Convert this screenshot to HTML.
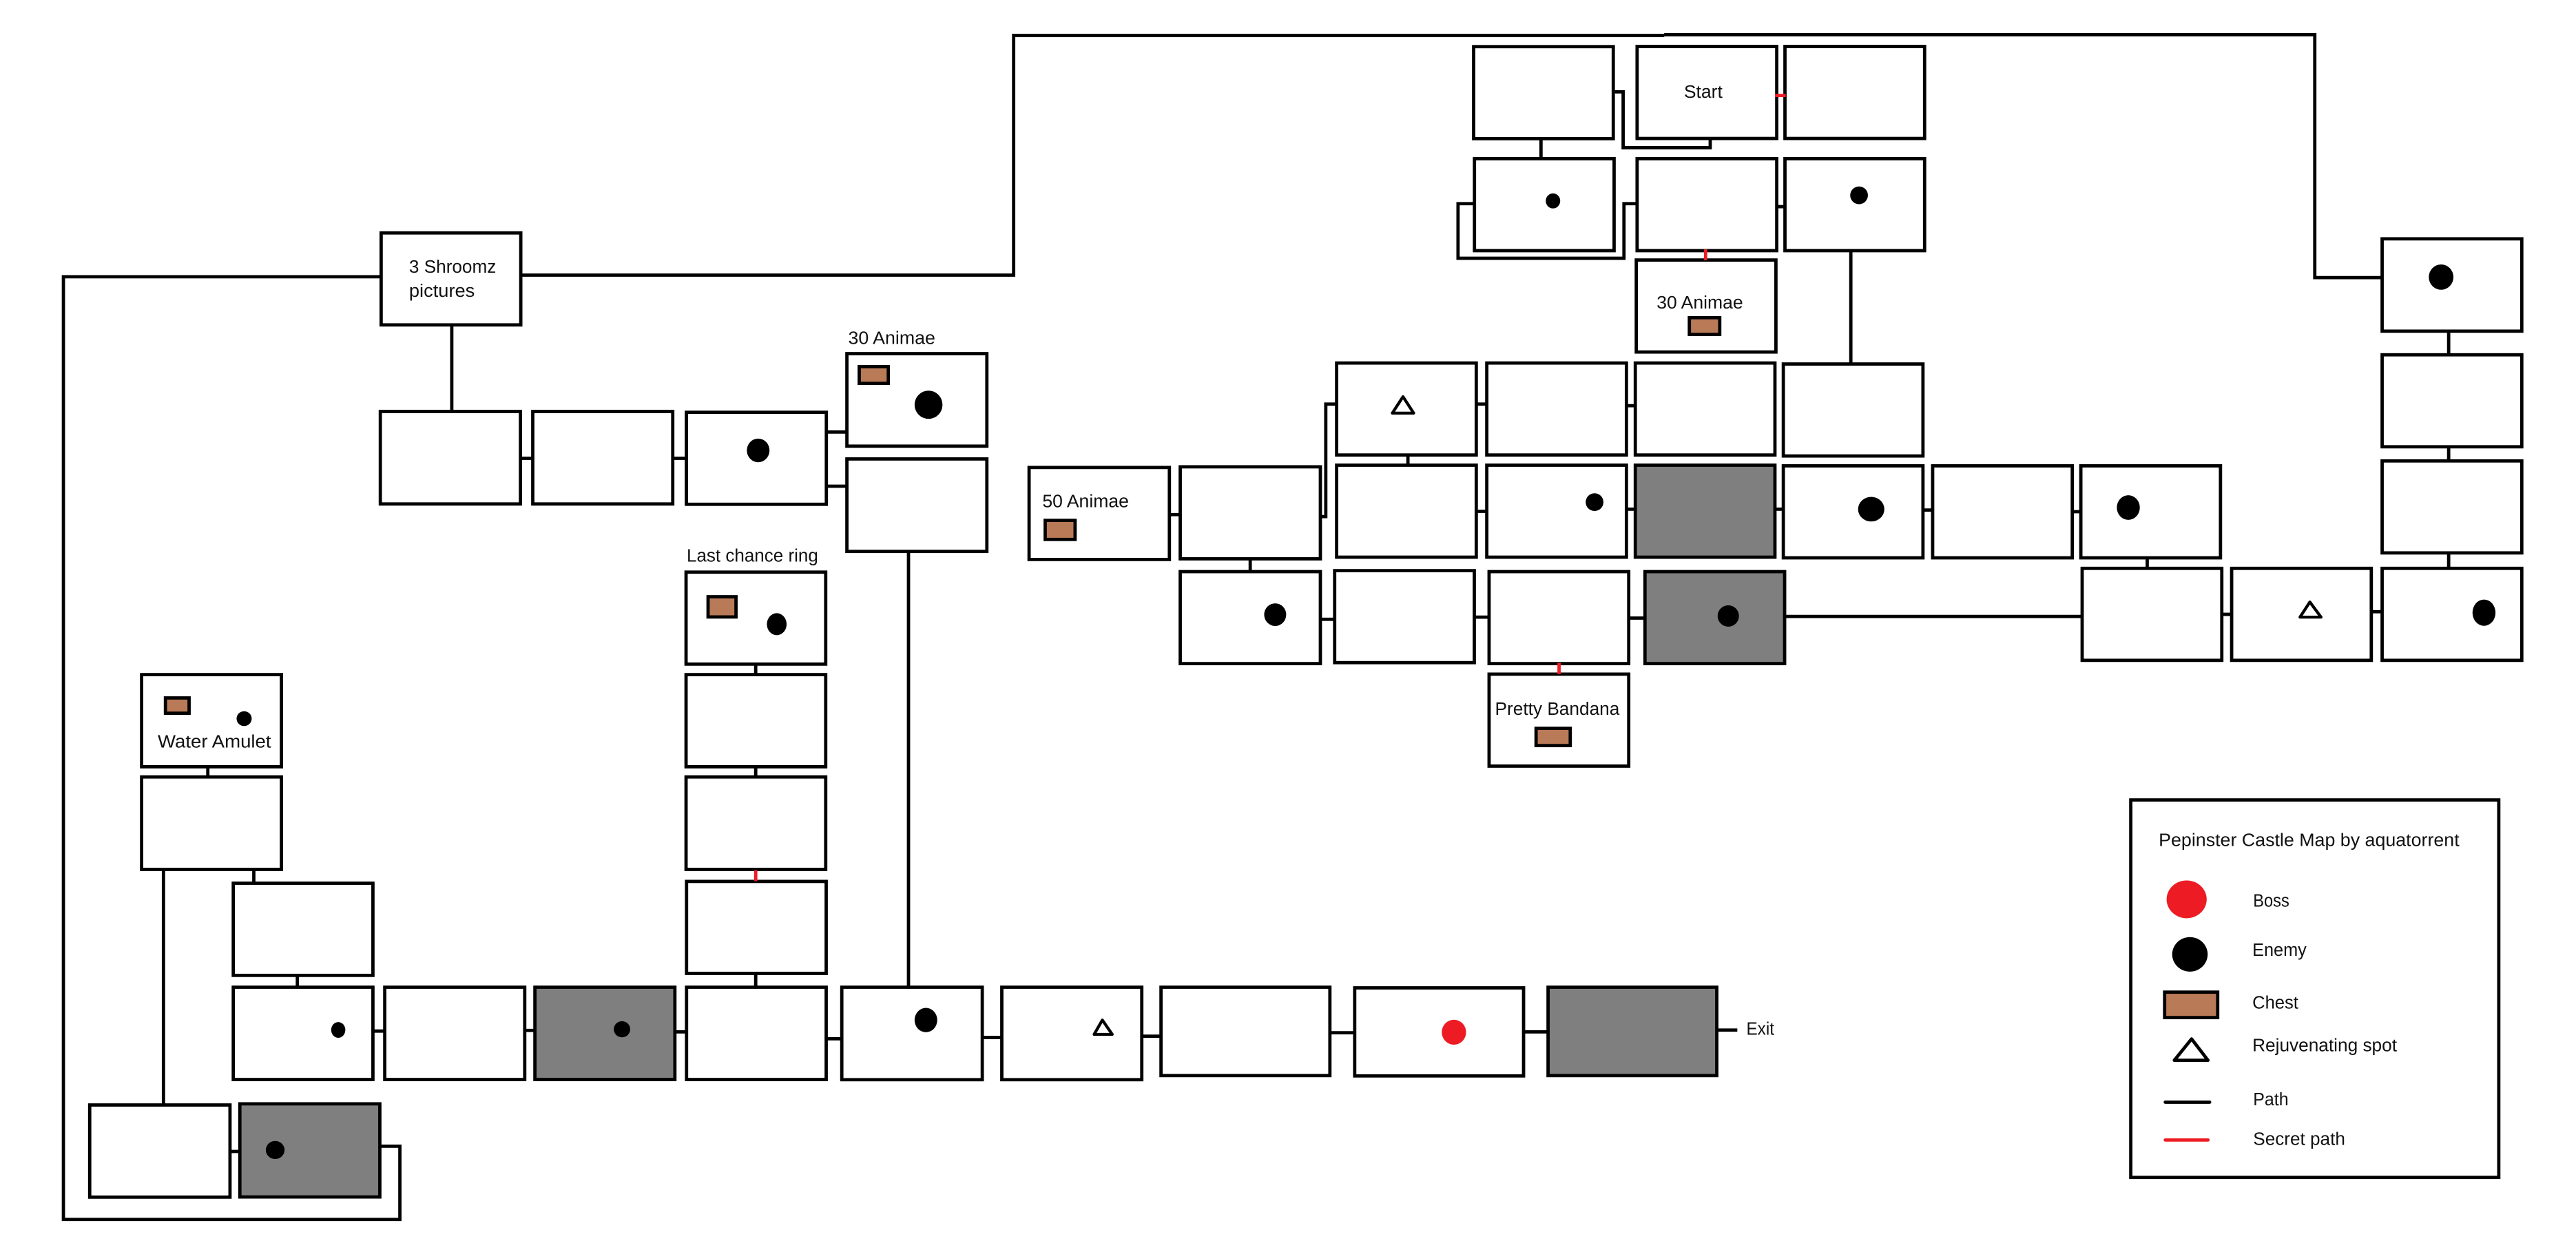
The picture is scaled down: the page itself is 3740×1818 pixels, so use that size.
<!DOCTYPE html>
<html><head><meta charset="utf-8"><style>
html,body{margin:0;padding:0;background:#fff}
svg{display:block}
.r{fill:#fff;stroke:#000;stroke-width:2}
.g{fill:#7f7f7f;stroke:#000;stroke-width:2}
.c{fill:#b97a57;stroke:#000;stroke-width:2}
.l{fill:none;stroke:#000;stroke-width:2}
.s{fill:none;stroke:#ed1c24;stroke-width:2}
.t{fill:#fff;stroke:#000;stroke-width:1.8;stroke-linejoin:round}
text{font-family:"Liberation Sans",sans-serif;font-size:11px;fill:#111}
</style></head><body>
<svg width="3740" height="1818" viewBox="0 0 1568 762.2" xmlns="http://www.w3.org/2000/svg">
<rect width="1568" height="762.2" fill="#fff"/>
<!-- connectors -->
<path class="l" d="M317 167.5H617V21.6H1013M1013 21.1H1409V169H1450"/>
<path class="l" d="M232 168.5H38.6V742.4H243.4V697.8H232"/>
<path class="l" d="M275 198V250M317 279H324M410 279H418M503 263H516M503 296H515M553 336V601"/>
<path class="l" d="M460 405V411M460 467V473M460 593V601"/>
<path class="l" d="M126.5 467V473M99.5 530V673M154.5 530V538M181 594V601M227 627.7H234M320 627.3H326M411 628.2H418M503 632.4H512M598 631.6H609M695 630.8H707M810 628.7H824M928 628.2H942M1045 627.1H1057.5M140 701H146"/>
<path class="l" d="M712 313.3H718M804 314.5H807V246H813.5M761 341V347.5M804 377H812M898 375.7H906M992 376.3H1001M1087 375.3H1267M1353 374H1358M1444 372.4H1450"/>
<path class="l" d="M857 277V283M899 246H905M990 247H995M899 311.3H905M990 310H995M1080 310H1085M1171 310.5H1176M1262 311.5H1266M1126.6 153V221"/>
<path class="l" d="M983 55.9H988V89.9H1041V85M938 85V96M897 124H887.5V157.2H988.5V124H996M1082 125.8H1086"/>
<path class="l" d="M1490.5 202V216M1490.5 272V280.6M1490.5 336.6V346M1307 340V346"/>
<!-- rooms -->
<rect class="r" x="897" y="28.4" width="85" height="56"/>
<rect class="r" x="996.5" y="28.3" width="85" height="56"/>
<rect class="r" x="1086.5" y="28.3" width="85" height="56"/>
<rect class="r" x="897.5" y="96.6" width="85" height="56"/>
<rect class="r" x="996.5" y="96.6" width="85" height="56"/>
<rect class="r" x="1086.5" y="96.6" width="85" height="56"/>
<rect class="r" x="996" y="158.3" width="85" height="56"/>
<rect class="r" x="813.6" y="221" width="85" height="56"/>
<rect class="r" x="905" y="221" width="85" height="56"/>
<rect class="r" x="995.4" y="221" width="85" height="56"/>
<rect class="r" x="1085.5" y="221.6" width="85" height="56"/>
<rect class="r" x="813.6" y="283.2" width="85" height="56"/>
<rect class="r" x="905" y="283.2" width="85" height="56"/>
<rect class="g" x="995.4" y="283.2" width="85" height="56"/>
<rect class="r" x="1085.5" y="283.6" width="85" height="56"/>
<rect class="r" x="1176.4" y="283.6" width="85" height="56"/>
<rect class="r" x="1266.6" y="283.6" width="85" height="56"/>
<rect class="r" x="626.4" y="284.6" width="85.4" height="56"/>
<rect class="r" x="718.4" y="284.2" width="85.3" height="56"/>
<rect class="r" x="718.4" y="348" width="85.3" height="56"/>
<rect class="r" x="812.4" y="347.4" width="85" height="56"/>
<rect class="r" x="906.4" y="348" width="85" height="56"/>
<rect class="g" x="1001.3" y="348" width="85" height="56"/>
<rect class="r" x="906.4" y="410.4" width="85" height="56"/>
<rect class="r" x="1267.4" y="346" width="85" height="56"/>
<rect class="r" x="1358.4" y="346" width="85" height="56"/>
<rect class="r" x="1450" y="346" width="85" height="56"/>
<rect class="r" x="1450" y="145.4" width="85" height="56.2"/>
<rect class="r" x="1450" y="216" width="85" height="56"/>
<rect class="r" x="1450" y="280.6" width="85" height="56"/>
<rect class="r" x="232" y="141.8" width="85" height="56"/>
<rect class="r" x="231.5" y="250.5" width="85.3" height="56.3"/>
<rect class="r" x="324.3" y="250.5" width="85.2" height="56.3"/>
<rect class="r" x="417.8" y="251" width="85.2" height="56"/>
<rect class="r" x="515.5" y="215.3" width="85.2" height="56.3"/>
<rect class="r" x="515.5" y="279.4" width="85.2" height="56.3"/>
<rect class="r" x="417.6" y="348.3" width="85" height="56"/>
<rect class="r" x="417.6" y="410.7" width="85" height="56.1"/>
<rect class="r" x="417.6" y="473" width="85" height="56.3"/>
<rect class="r" x="417.9" y="536.6" width="85" height="56"/>
<rect class="r" x="86.2" y="410.7" width="85.1" height="56.1"/>
<rect class="r" x="86.2" y="473" width="85.1" height="56.3"/>
<rect class="r" x="142" y="537.7" width="85" height="56.1"/>
<rect class="r" x="142" y="601" width="85" height="56.2"/>
<rect class="r" x="234.2" y="601" width="85.2" height="56.2"/>
<rect class="g" x="325.6" y="601" width="85.2" height="56.2"/>
<rect class="r" x="417.9" y="601" width="85" height="56.2"/>
<rect class="r" x="512.4" y="601" width="85.5" height="56.3"/>
<rect class="r" x="609.8" y="601" width="85.2" height="56.3"/>
<rect class="r" x="706.7" y="601" width="102.8" height="53.8"/>
<rect class="r" x="824.6" y="601.4" width="102.8" height="53.6"/>
<rect class="g" x="942.3" y="601" width="102.7" height="53.8"/>
<rect class="r" x="54.6" y="672.7" width="85.4" height="56.1"/>
<rect class="g" x="146" y="672" width="85.2" height="56.7"/>
<!-- secret paths -->
<path class="s" d="M1080.5 58.1H1087M1038.2 151.8V158.4M949 403.6V410.4M460 529.8V536.4"/>
<!-- enemies -->
<g fill="#000">
<ellipse cx="945.3" cy="122.3" rx="4.4" ry="4.6"/>
<ellipse cx="1131.6" cy="118.9" rx="5.4" ry="5.4"/>
<ellipse cx="970.6" cy="305.7" rx="5.4" ry="5.4"/>
<ellipse cx="1139" cy="310" rx="8" ry="7.5"/>
<ellipse cx="1295.5" cy="309" rx="7" ry="7.5"/>
<ellipse cx="776.2" cy="374.2" rx="6.7" ry="6.9"/>
<ellipse cx="1052" cy="375" rx="6.5" ry="6.5"/>
<ellipse cx="1512" cy="373" rx="7" ry="8"/>
<ellipse cx="1485.9" cy="168.7" rx="7.5" ry="7.7"/>
<ellipse cx="461.5" cy="274.2" rx="6.9" ry="7.2"/>
<ellipse cx="565.2" cy="246.4" rx="8.5" ry="8.6"/>
<ellipse cx="472.8" cy="380" rx="6" ry="6.7"/>
<ellipse cx="148.6" cy="437.5" rx="4.6" ry="4.5"/>
<ellipse cx="205.9" cy="627" rx="4.3" ry="4.8"/>
<ellipse cx="378.6" cy="626.6" rx="5" ry="4.9"/>
<ellipse cx="563.6" cy="621" rx="6.9" ry="7.4"/>
<ellipse cx="167.5" cy="700.1" rx="5.7" ry="5.5"/>
</g>
<ellipse cx="885" cy="628.4" rx="7.4" ry="7.6" fill="#ed1c24"/>
<!-- chests -->
<rect class="c" x="1028.3" y="193.4" width="18.5" height="10.2"/>
<rect class="c" x="523" y="223.2" width="17.7" height="10.2"/>
<rect class="c" x="636.2" y="316.8" width="18.2" height="11.6"/>
<rect class="c" x="431" y="363.3" width="17" height="12.3"/>
<rect class="c" x="100.7" y="424.9" width="14.4" height="9.3"/>
<rect class="c" x="935" y="443.4" width="20.8" height="10.5"/>
<!-- rejuvenating -->
<path class="t" d="M854 241.5L860.5 251.5H847.5Z"/>
<path class="t" d="M671 621L677 629.7H666Z"/>
<path class="t" d="M1406 366.5L1412.8 375.7H1400Z"/>
<!-- labels -->
<text x="1025" y="59.5" textLength="23.5" lengthAdjust="spacingAndGlyphs">Start</text>
<text x="1008.4" y="187.8" textLength="52.6" lengthAdjust="spacingAndGlyphs">30 Animae</text>
<text x="249" y="166" textLength="53" lengthAdjust="spacingAndGlyphs">3 Shroomz</text>
<text x="249" y="180.8" textLength="40" lengthAdjust="spacingAndGlyphs">pictures</text>
<text x="516.3" y="209.5" textLength="53" lengthAdjust="spacingAndGlyphs">30 Animae</text>
<text x="634.5" y="308.8" textLength="52.6" lengthAdjust="spacingAndGlyphs">50 Animae</text>
<text x="418" y="341.8" textLength="80" lengthAdjust="spacingAndGlyphs">Last chance ring</text>
<text x="96" y="455" textLength="69" lengthAdjust="spacingAndGlyphs">Water Amulet</text>
<text x="910" y="435.2" textLength="75.8" lengthAdjust="spacingAndGlyphs">Pretty Bandana</text>
<text x="1063" y="630" textLength="17" lengthAdjust="spacingAndGlyphs">Exit</text>
<!-- legend -->
<rect class="r" x="1297" y="487" width="224" height="229.8"/>
<text x="1314" y="515" textLength="183" lengthAdjust="spacingAndGlyphs">Pepinster Castle Map by aquatorrent</text>
<ellipse cx="1331" cy="547.5" rx="12.2" ry="11.5" fill="#ed1c24"/>
<ellipse cx="1333" cy="581" rx="10.8" ry="10.5" fill="#000"/>
<rect class="c" x="1317.6" y="604" width="32.3" height="15.5"/>
<path class="t" d="M1334 632.5L1344 645.5H1323.5Z" style="stroke-width:2"/>
<path class="l" d="M1318 671H1345" stroke-linecap="round"/>
<path class="s" d="M1318 694H1344" stroke-linecap="round"/>
<text x="1371.5" y="552" textLength="22" lengthAdjust="spacingAndGlyphs">Boss</text>
<text x="1371" y="582" textLength="33" lengthAdjust="spacingAndGlyphs">Enemy</text>
<text x="1371" y="614" textLength="28" lengthAdjust="spacingAndGlyphs">Chest</text>
<text x="1371" y="640" textLength="88" lengthAdjust="spacingAndGlyphs">Rejuvenating spot</text>
<text x="1371.5" y="673" textLength="21.5" lengthAdjust="spacingAndGlyphs">Path</text>
<text x="1371.5" y="697" textLength="56" lengthAdjust="spacingAndGlyphs">Secret path</text>
</svg>
</body></html>
